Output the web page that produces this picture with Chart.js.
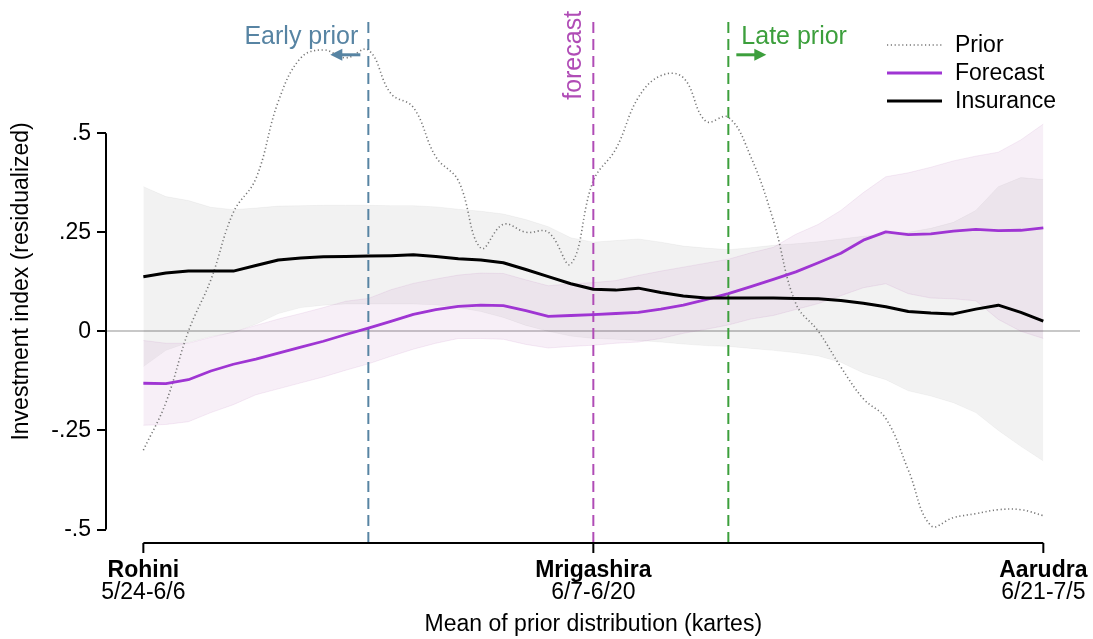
<!DOCTYPE html>
<html>
<head>
<meta charset="utf-8">
<script src="https://cdn.jsdelivr.net/npm/chart.js@4/dist/chart.umd.min.js"></script>
<style>
  html, body { margin: 0; padding: 0; background: #fff; }
  #wrap { width: 1093px; height: 639px; }
</style>
</head>
<body>
<div id="wrap"><canvas id="chart" width="1093" height="639"></canvas></div>
<script>
// x = mean of prior distribution, in nakshatra units (0 = Rohini, 1 = Mrigashira, 2 = Aarudra)
const xs = [0, 0.05, 0.1, 0.15, 0.2, 0.25, 0.3, 0.35, 0.4, 0.45, 0.5, 0.55, 0.6, 0.65, 0.7, 0.75, 0.8, 0.85, 0.9, 0.95,
  1, 1.05, 1.1, 1.15, 1.2, 1.25, 1.3, 1.35, 1.4, 1.45, 1.5, 1.55, 1.6, 1.65, 1.7, 1.75, 1.8, 1.85, 1.9, 1.95, 2];

const prior = [-0.30, -0.18, 0.0, 0.13, 0.30, 0.385, 0.58, 0.69, 0.71, 0.69, 0.71, 0.60, 0.565, 0.44, 0.38, 0.21, 0.27, 0.25, 0.25, 0.17,
  0.38, 0.46, 0.59, 0.645, 0.64, 0.53, 0.54, 0.44, 0.28, 0.07, 0.0, -0.09, -0.17, -0.22, -0.35, -0.49, -0.47, -0.46, -0.45, -0.45, -0.465];

const forecast = [-0.131, -0.132, -0.122, -0.100, -0.083, -0.070, -0.055, -0.040, -0.025, -0.008, 0.008, 0.025, 0.043, 0.055, 0.063, 0.066, 0.065, 0.052, 0.038, 0.040,
  0.042, 0.045, 0.048, 0.056, 0.066, 0.080, 0.095, 0.113, 0.131, 0.150, 0.173, 0.197, 0.230, 0.251, 0.244, 0.246, 0.253, 0.257, 0.254, 0.255, 0.261];
const forecastHi = [-0.023, -0.030, -0.030, -0.015, -0.002, 0.015, 0.031, 0.045, 0.060, 0.076, 0.083, 0.105, 0.121, 0.132, 0.142, 0.147, 0.146, 0.130, 0.115, 0.120,
  0.123, 0.128, 0.141, 0.152, 0.162, 0.172, 0.182, 0.198, 0.212, 0.245, 0.270, 0.305, 0.350, 0.390, 0.400, 0.414, 0.430, 0.442, 0.452, 0.483, 0.523];
const forecastLo = [-0.237, -0.235, -0.228, -0.205, -0.185, -0.160, -0.145, -0.130, -0.115, -0.098, -0.082, -0.063, -0.045, -0.030, -0.018, -0.018, -0.020, -0.033, -0.042, -0.038,
  -0.035, -0.030, -0.027, -0.018, -0.005, 0.005, 0.016, 0.031, 0.040, 0.055, 0.070, 0.090, 0.110, 0.120, 0.095, 0.084, 0.082, 0.077, 0.030, 0.000, -0.018];

const insurance = [0.138, 0.147, 0.152, 0.152, 0.152, 0.166, 0.180, 0.185, 0.188, 0.189, 0.190, 0.191, 0.193, 0.189, 0.183, 0.180, 0.173, 0.156, 0.138, 0.120,
  0.106, 0.104, 0.109, 0.098, 0.089, 0.084, 0.084, 0.084, 0.084, 0.083, 0.082, 0.078, 0.071, 0.062, 0.050, 0.046, 0.044, 0.056, 0.066, 0.048, 0.026];
const insuranceHi = [0.365, 0.340, 0.330, 0.313, 0.307, 0.311, 0.316, 0.317, 0.318, 0.318, 0.318, 0.317, 0.317, 0.314, 0.308, 0.303, 0.296, 0.282, 0.264, 0.236,
  0.225, 0.229, 0.233, 0.225, 0.215, 0.210, 0.206, 0.211, 0.217, 0.221, 0.226, 0.233, 0.240, 0.245, 0.250, 0.260, 0.275, 0.305, 0.365, 0.388, 0.383];
const insuranceLo = [-0.089, -0.048, -0.028, -0.013, -0.003, 0.018, 0.045, 0.060, 0.066, 0.069, 0.069, 0.069, 0.069, 0.067, 0.060, 0.050, 0.035, 0.015, 0.000, -0.012,
  -0.018, -0.020, -0.023, -0.027, -0.032, -0.036, -0.038, -0.043, -0.048, -0.054, -0.062, -0.078, -0.105, -0.122, -0.150, -0.163, -0.180, -0.205, -0.250, -0.290, -0.327];

// vertical reference lines
const markerX = [0.5, 1.0, 1.3];
const markerColors = ["#5784a3", "#b04cb6", "#3c9f3c"];

const xTicks = [0, 1, 2];
const xTickNames = ["Rohini", "Mrigashira", "Aarudra"];
const xTickDates = ["5/24-6/6", "6/7-6/20", "6/21-7/5"];

const yTicks = [-0.5, -0.25, 0, 0.25, 0.5];
const yTickLabels = ["-.5", "-.25", "0", ".25", ".5"];

const xMin = -0.083, xMax = 2.0815;
const yMin = -0.534, yMax = 0.786;

const FONT = "'Liberation Sans', Arial, Helvetica, sans-serif";
const PURPLE = "#9f35d3";
const PRIOR_GREY = "#777";

const pts = (vals) => xs.map((x, i) => ({ x, y: vals[i] }));
const vline = (x) => [{ x, y: yMin }, { x, y: yMax }];

const bandGrey = "rgba(0, 0, 0, 0.05)";
const bandGreyEdge = "rgba(0, 0, 0, 0.04)";
const bandPurple = "rgba(165, 75, 165, 0.09)";
const bandPurpleEdge = "rgba(165, 75, 165, 0.10)";

const datasets = [
  { label: "insHi", data: pts(insuranceHi), fill: "+1", backgroundColor: bandGrey, borderColor: bandGreyEdge, borderWidth: 1, order: 20 },
  { label: "insLo", data: pts(insuranceLo), fill: false, borderColor: bandGreyEdge, borderWidth: 1, order: 21 },
  { label: "fcHi", data: pts(forecastHi), fill: "+1", backgroundColor: bandPurple, borderColor: bandPurpleEdge, borderWidth: 1, order: 18 },
  { label: "fcLo", data: pts(forecastLo), fill: false, borderColor: bandPurpleEdge, borderWidth: 1, order: 19 },
  { label: "Prior", data: pts(prior), fill: false, borderColor: PRIOR_GREY, borderWidth: 1.6, borderDash: [1.2, 2.6], tension: 0.4, order: 10 },
  ...markerX.map((x, i) => ({ label: "marker" + i, data: vline(x), fill: false, borderColor: markerColors[i], borderWidth: 2, borderDash: [11, 6], order: 8 })),
  { label: "Forecast", data: pts(forecast), fill: false, borderColor: PURPLE, borderWidth: 2.8, order: 2 },
  { label: "Insurance", data: pts(insurance), fill: false, borderColor: "#000", borderWidth: 3, order: 1 },
];

const legendItems = [
  { text: "Prior", color: PRIOR_GREY, width: 1.6, dash: [1.2, 2.6] },
  { text: "Forecast", color: PURPLE, width: 2.8, dash: [] },
  { text: "Insurance", color: "#000", width: 3, dash: [] },
];

const decorPlugin = {
  id: "decor",
  afterDraw(chart) {
    const { ctx, chartArea } = chart;
    const xs_ = chart.scales.x, ys_ = chart.scales.y;
    ctx.save();

    // y axis line, only over the ticked range
    ctx.strokeStyle = "#000";
    ctx.lineWidth = 2;
    ctx.beginPath();
    ctx.moveTo(chartArea.left, ys_.getPixelForValue(yTicks[yTicks.length - 1]));
    ctx.lineTo(chartArea.left, ys_.getPixelForValue(yTicks[0]));
    ctx.stroke();

    // x axis line and ticks
    const axY = chartArea.bottom;
    ctx.beginPath();
    ctx.moveTo(xs_.getPixelForValue(xTicks[0]), axY);
    ctx.lineTo(xs_.getPixelForValue(xTicks[xTicks.length - 1]), axY);
    xTicks.forEach((t) => {
      const px = xs_.getPixelForValue(t);
      ctx.moveTo(px, axY);
      ctx.lineTo(px, axY + 10);
    });
    ctx.stroke();

    ctx.fillStyle = "#000";
    ctx.textAlign = "center";
    ctx.textBaseline = "alphabetic";
    xTicks.forEach((t, i) => {
      const px = xs_.getPixelForValue(t);
      ctx.font = "bold 23px " + FONT;
      ctx.fillText(xTickNames[i], px, axY + 34);
      ctx.font = "23px " + FONT;
      ctx.fillText(xTickDates[i], px, axY + 56);
    });
    ctx.font = "23px " + FONT;
    ctx.fillText("Mean of prior distribution (kartes)", xs_.getPixelForValue(1), axY + 88);

    // marker annotations
    const top = chartArea.top;
    const m0 = xs_.getPixelForValue(markerX[0]);
    const m1 = xs_.getPixelForValue(markerX[1]);
    const m2 = xs_.getPixelForValue(markerX[2]);
    ctx.font = "25px " + FONT;

    ctx.fillStyle = markerColors[0];
    ctx.textAlign = "right";
    ctx.fillText("Early prior", m0 - 10, top + 24);
    drawArrow(ctx, m0 - 8, m0 - 38, top + 35, markerColors[0]);

    ctx.fillStyle = markerColors[2];
    ctx.textAlign = "left";
    ctx.fillText("Late prior", m2 + 13, top + 24);
    drawArrow(ctx, m2 + 8, m2 + 38, top + 35, markerColors[2]);

    ctx.save();
    ctx.fillStyle = markerColors[1];
    ctx.translate(m1 - 12.5, top + 80);
    ctx.rotate(-Math.PI / 2);
    ctx.textAlign = "left";
    ctx.fillText("forecast", 0, 0);
    ctx.restore();

    // legend
    ctx.font = "23px " + FONT;
    ctx.textAlign = "left";
    ctx.textBaseline = "middle";
    legendItems.forEach((it, i) => {
      const y = 45 + i * 28;
      ctx.strokeStyle = it.color;
      ctx.lineWidth = it.width;
      ctx.setLineDash(it.dash);
      ctx.beginPath();
      ctx.moveTo(887, y);
      ctx.lineTo(942, y);
      ctx.stroke();
      ctx.setLineDash([]);
      ctx.fillStyle = "#000";
      ctx.fillText(it.text, 955, y + 1);
    });

    ctx.restore();
  },
};

function drawArrow(ctx, x0, x1, y, color) {
  const dir = Math.sign(x1 - x0);
  ctx.strokeStyle = color;
  ctx.fillStyle = color;
  ctx.lineWidth = 3;
  ctx.beginPath();
  ctx.moveTo(x0, y);
  ctx.lineTo(x1 - dir * 8, y);
  ctx.stroke();
  ctx.beginPath();
  ctx.moveTo(x1, y);
  ctx.lineTo(x1 - dir * 12, y - 6);
  ctx.lineTo(x1 - dir * 12, y + 6);
  ctx.closePath();
  ctx.fill();
}

new Chart(document.getElementById("chart"), {
  type: "line",
  data: { datasets },
  options: {
    responsive: false,
    animation: false,
    devicePixelRatio: 1,
    layout: { padding: { top: 15, right: 13, bottom: 96, left: 0 } },
    elements: { point: { radius: 0, hoverRadius: 0 }, line: { borderCapStyle: "butt", borderJoinStyle: "round" } },
    plugins: { legend: { display: false }, tooltip: { enabled: false } },
    scales: {
      x: { type: "linear", min: xMin, max: xMax, display: false },
      y: {
        type: "linear",
        min: yMin,
        max: yMax,
        afterBuildTicks: (scale) => { scale.ticks = yTicks.map((v) => ({ value: v })); },
        afterFit: (scale) => { scale.width = 106; },
        border: { display: false },
        grid: {
          drawOnChartArea: true,
          color: (c) => (c.tick && c.tick.value === 0 ? "#c8c8c8" : "rgba(0,0,0,0)"),
          lineWidth: 2,
          tickColor: "#000",
          tickWidth: 2,
          tickLength: 9,
        },
        ticks: {
          autoSkip: false,
          padding: 6,
          color: "#000",
          font: { family: FONT, size: 23 },
          callback: (v) => yTickLabels[yTicks.indexOf(v)],
        },
        title: {
          display: true,
          text: "Investment index (residualized)",
          color: "#000",
          font: { family: FONT, size: 23 },
          padding: { top: 8, bottom: 0 },
        },
      },
    },
  },
  plugins: [decorPlugin],
});
</script>
</body>
</html>
